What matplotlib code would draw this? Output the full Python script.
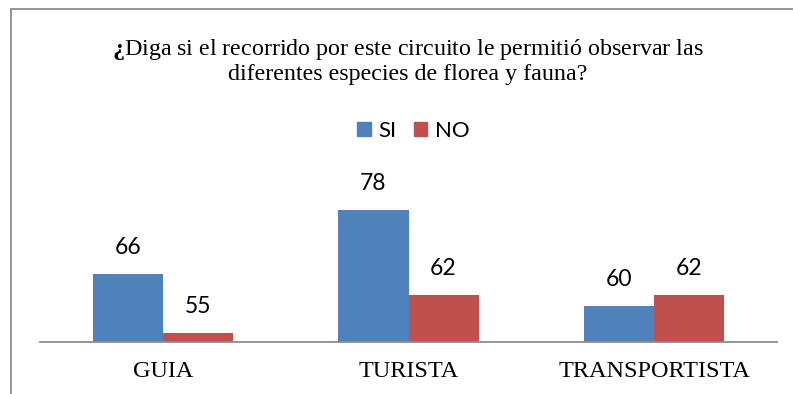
import matplotlib
matplotlib.use("Agg")
import matplotlib.pyplot as plt
from matplotlib.patches import Rectangle, Patch
import numpy as np

# survey answers per group
categorias = ["GUIA", "TURISTA", "TRANSPORTISTA"]
si = [66, 78, 60]
no = [55, 62, 62]
series = ["SI", "NO"]

azul = "#4F81BD"
rojo = "#C0504D"

plt.rcParams["mathtext.fontset"] = "custom"
plt.rcParams["mathtext.rm"] = "Liberation Serif"
plt.rcParams["mathtext.bf"] = "Liberation Serif:bold"

W, H = 793, 394
fig = plt.figure(figsize=(W / 100, H / 100), dpi=100)
fig.patch.set_facecolor("white")

# chart frame, cut off at the right and bottom
fig.patches.append(Rectangle((10.5 / W, -0.1), 1.1, 1.1 - 9.5 / H,
                             transform=fig.transFigure, fill=False,
                             edgecolor="#8c8c8c", linewidth=1.3))

ax = fig.add_axes([40 / W, 1 - 341.7 / H, 737 / W, 181.7 / H])
x = np.arange(len(categorias))
w = 0.285
b1 = ax.bar(x - w / 2, si, w, color=azul, label=series[0])
b2 = ax.bar(x + w / 2, no, w, color=rojo, label=series[1])

ax.set_xlim(-0.5, 2.5)
ax.set_ylim(53.3, 87.4)
ax.set_yticks([])
ax.set_xticks([])
for s in ["top", "right", "left"]:
    ax.spines[s].set_visible(False)
ax.spines["bottom"].set_color("#8c8c8c")
ax.spines["bottom"].set_linewidth(1.3)
ax.patch.set_alpha(0)

# value labels above each bar
for bars in (b1, b2):
    for r in bars:
        v = r.get_height()
        ax.annotate(f"{v:g}", (r.get_x() + r.get_width() / 2, v),
                    xytext=(0, 26.5), textcoords="offset pixels",
                    ha="center", va="center", fontsize=16.5, family="Lato")

# category names under the axis
for i, c in enumerate(categorias):
    ax.annotate(c, (i, 0), xycoords=("data", "axes fraction"),
                xytext=(0, -35.6), textcoords="offset pixels",
                ha="center", va="baseline", fontsize=17.5,
                family="Liberation Serif")

# title in two lines, opening sign in bold
fig.text(408 / W, 1 - 55 / H,
         r"$\mathbf{\u00bf}$Diga si el recorrido por este circuito le permiti\u00f3 observar las".replace(r"\u00bf", "\u00bf").replace(r"\u00f3", "\u00f3"),
         ha="center", va="baseline", fontsize=17.3, family="Liberation Serif")
fig.text(408 / W, 1 - 80 / H, "diferentes especies de florea y fauna?",
         ha="center", va="baseline", fontsize=17.3, family="Liberation Serif")

handles = [Patch(color=azul), Patch(color=rojo)]
fig.legend(handles, series, loc="center", ncol=2,
           bbox_to_anchor=(413.5 / W, 1 - 131 / H), frameon=False,
           prop={"family": "Lato", "size": 16}, handlelength=0.62,
           handleheight=0.62, handletextpad=0.35, columnspacing=0.75)

fig.savefig("out.png", dpi=100, facecolor="white")
